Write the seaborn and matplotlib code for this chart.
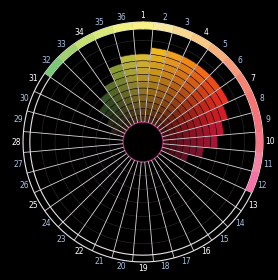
import numpy as np
import matplotlib
matplotlib.use("Agg")
import matplotlib.pyplot as plt
import seaborn as sns

# 36 sectors around the wheel, numbered clockwise from the top
sectors = list(range(1, 37))

# number of stacked steps in each sector (1..36)
levels = [10, 11, 11, 11, 11, 11, 11, 10, 9, 8, 6, 4,
          0, 0, 0, 0, 0, 0, 0, 0, 0, 0, 0, 0,
          0, 0, 0, 0, 0, 2, 3, 5, 6, 7, 9, 10]

# brightest (outer step) colour of the bars per sector
bar_colors = {
    1: "#e8c838", 2: "#f0b820", 3: "#f0a020", 4: "#f08818", 5: "#f06c18",
    6: "#ea4c18", 7: "#e83020", 8: "#e02028", 9: "#d81838", 10: "#c81840",
    11: "#b41842", 12: "#a01844",
    30: "#1e4a22", 31: "#225828", 32: "#2a6830", 33: "#3c8034",
    34: "#6c9c34", 35: "#98b43a", 36: "#c8c840",
}

# pastel colours of the outer ring band
ring_colors = {
    32: "#78c878", 33: "#a0d070", 34: "#c4e070", 35: "#d8ea78", 36: "#eef080",
    1: "#f8f088", 2: "#f8e8a0", 3: "#f8d890", 4: "#f8c880", 5: "#f8b078",
    6: "#f89a78", 7: "#f88270", 8: "#f87470", 9: "#f87078", 10: "#f87888",
    11: "#f880a0", 12: "#f870a8",
}

white_labels = [k for k in sectors if k % 3 == 1]

n_steps = 11
hole = 2.94       # radius of the empty centre, in steps
ring_in, ring_out = 13.7, 14.7
label_r = 15.7
r_max = 15.88

sns.set_theme(style="dark", rc={"axes.facecolor": "black",
                                "figure.facecolor": "black"})

fig = plt.figure(figsize=(2.78, 2.80), dpi=100, facecolor="black")
ax = fig.add_axes([15 / 278, 10 / 280, 256 / 278, 256 / 280], projection="polar")
ax.set_facecolor("black")
ax.set_theta_zero_location("N")
ax.set_theta_direction(-1)
ax.set_rorigin(-hole)
ax.set_ylim(0, r_max)
ax.grid(False)
ax.set_xticks([])
ax.set_yticks([])
ax.spines["polar"].set_visible(False)
ax.spines["inner"].set_color("#a03070")
ax.spines["inner"].set_linewidth(1.0)

width = np.deg2rad(10)
theta = {k: np.deg2rad((k - 1) * 10) for k in sectors}

# faint concentric guides
circ = np.linspace(0, 2 * np.pi, 361)
for lev in range(2, 14, 2):
    ax.plot(circ, np.full_like(circ, lev), color="#262626", lw=0.5, zorder=1)

# stacked steps, darker towards the centre
for k, n in zip(sectors, levels):
    if n == 0:
        continue
    shades = sns.blend_palette(["#240a0a", bar_colors[k]], 41)
    for j in range(n):
        t = ((j + 1) / n_steps) ** 0.75
        ax.bar(theta[k], 1, bottom=j, width=width, color=shades[int(round(t * 40))],
               edgecolor="#1a0808", linewidth=0.35, zorder=2)

# spokes between sectors
for k in sectors:
    b = theta[k] + width / 2
    ax.plot([b, b], [0, ring_out], color="#ddd4dc", lw=0.6, zorder=3)

# outer ring outline and coloured band
ax.plot(circ, np.full_like(circ, ring_in), color="#e8e4e8", lw=0.8, zorder=4)
ax.plot(circ, np.full_like(circ, ring_out), color="#e8e4e8", lw=0.8, zorder=4)
for k, c in ring_colors.items():
    ax.bar(theta[k], ring_out - ring_in, bottom=ring_in, width=width,
           color=c, linewidth=0, zorder=5)

# sector numbers
for k in sectors:
    col = "white" if k in white_labels else "#a8c4e4"
    ax.text(theta[k], label_r, str(k), ha="center", va="center",
            fontsize=5.5, color=col, clip_on=False, zorder=6)

fig.savefig("out.png", dpi=100, facecolor="black")
